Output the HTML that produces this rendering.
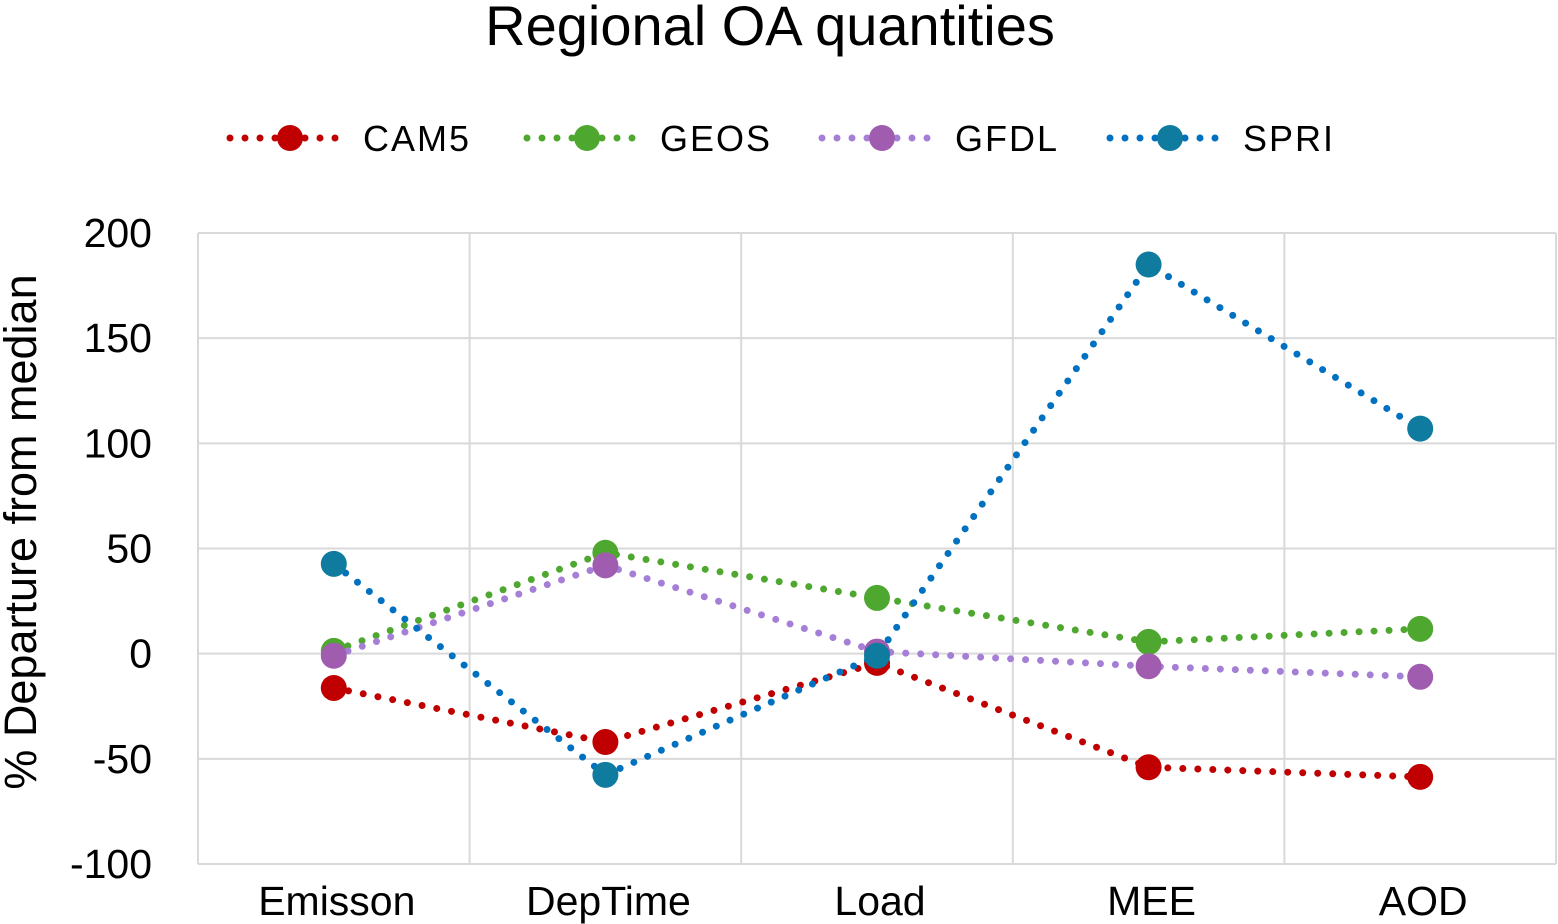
<!DOCTYPE html>
<html><head><meta charset="utf-8"><style>
html,body{margin:0;padding:0;background:#fff;}
svg{display:block;font-family:"Liberation Sans",Arial,sans-serif;}
</style></head><body>
<svg id="chart" width="1558" height="924" viewBox="0 0 1558 924">
<text x="770" y="45" text-anchor="middle" font-size="56" fill="#000">Regional OA quantities</text>
<g id="legend"></g>
<g id="grid"></g>
<g id="yticks"></g>
<g id="xticks"></g>
<text transform="translate(36,532) rotate(-90)" text-anchor="middle" font-size="45" fill="#000">% Departure from median</text>
<g id="series"></g>
</svg>
<script>
const categories = ["Emisson","DepTime","Load","MEE","AOD"];
const seriesNames = ["CAM5","GEOS","GFDL","SPRI"];
const cam5 = [-16.3,-42,-4.4,-54,-58.6];
const geos = [1.3,48,26.5,5.6,11.8];
const gfdl = [-1,42,1,-6,-11];
const spri = [42.7,-57.6,-1,185,107];
const yTicks = [200,150,100,50,0,-50,-100];

const NS="http://www.w3.org/2000/svg";
const L=198,R=1556,T=233,B=864,yMin=-100,yMax=200;
const yS=v=>T+(yMax-v)/(yMax-yMin)*(B-T);
const cw=(R-L)/categories.length;
const xS=i=>L+cw*(i+0.5);
function mk(tag,attrs,parent){const e=document.createElementNS(NS,tag);for(const k in attrs)e.setAttribute(k,attrs[k]);parent.appendChild(e);return e;}
const grid=document.getElementById('grid');
yTicks.forEach(v=>{
  const l=mk('line',{x1:L,x2:R,y1:yS(v),y2:yS(v),stroke:'#d9d9d9','stroke-width':2},grid);
  
  
  const t=mk('text',{x:152,y:yS(v)+14,'text-anchor':'end','font-size':41},document.getElementById('yticks'));
  t.textContent=v;
  
  
});
for(let i=0;i<=categories.length;i++){
  const l=mk('line',{x1:L+cw*i,x2:L+cw*i,y1:T,y2:B,stroke:'#d9d9d9','stroke-width':2},grid);
  
  
}
categories.forEach((c,i)=>{
  const t=mk('text',{x:xS(i)+3,y:915,'text-anchor':'middle','font-size':41},document.getElementById('xticks'));
  t.textContent=c;
  
  
});
const data=[cam5,geos,gfdl,spri];
const lineCol=['#C00000','#4EA72E','#A57FD6','#0070C0'];
const dotCol=['#C00000','#4EA72E','#A05DB0','#0F7B9E'];
const sg=document.getElementById('series');
data.forEach((arr,s)=>{
  const g=mk('g',{},sg);
  
  
  const p=mk('polyline',{points:arr.map((v,i)=>xS(i)+','+yS(v)).join(' '),fill:'none',stroke:lineCol[s],'stroke-width':7,'stroke-linecap':'round','stroke-dasharray':'0 15'},g);
  
  
  arr.forEach((v,i)=>{
    const c=mk('circle',{cx:xS(i),cy:yS(v),r:13,fill:dotCol[s]},g);
    
    
  });
});
const lg=document.getElementById('legend');
const lx=[230,527,822,1110];
seriesNames.forEach((n,s)=>{
  const g=mk('g',{},lg);
  
  
  mk('line',{x1:lx[s],x2:lx[s]+115,y1:138,y2:138,stroke:lineCol[s],'stroke-width':7,'stroke-linecap':'round','stroke-dasharray':'0 15'},g);
  mk('circle',{cx:lx[s]+60,cy:138,r:13,fill:dotCol[s]},g);
  const t=mk('text',{x:lx[s]+133,y:151,'font-size':36,'letter-spacing':'2'},g);
  t.textContent=n;
});
</script>
</body></html>
